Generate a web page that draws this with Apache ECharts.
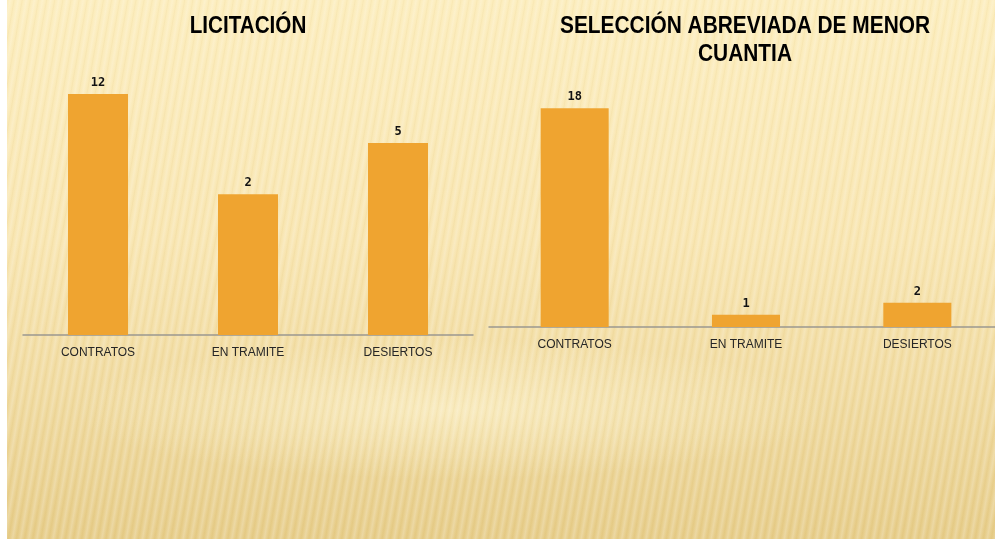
<!DOCTYPE html>
<html>
<head>
<meta charset="utf-8">
<script src="https://cdn.jsdelivr.net/npm/echarts@6/dist/echarts.min.js"></script>
<style>
  html, body { margin: 0; padding: 0; background: #fff; }
  #bg {
    position: absolute; left: 7px; top: 0; width: 988px; height: 539px;
    background:
      repeating-linear-gradient(100deg, rgba(255,255,255,0) 0px, rgba(255,255,255,0.22) 3px, rgba(255,255,255,0) 6px, rgba(190,150,60,0.06) 7px, rgba(255,255,255,0) 8px),
      radial-gradient(ellipse 380px 70px at 45% 76%, rgba(255,246,210,0.6), rgba(255,246,210,0)),
      linear-gradient(180deg, #fcedbd 0%, #f8e5b0 45%, #f0da9f 72%, #e6cc88 100%);
  }
  #chart { position: absolute; left: 0; top: 0; width: 995px; height: 539px; }
</style>
</head>
<body>
<div id="bg"></div>
<div id="chart"></div>
<script>
// categorias y valores
var categorias = ['CONTRATOS', 'EN TRAMITE', 'DESIERTOS']
var licitacion = [12, 2, 5]
var menorCuantia = [18, 1, 2]
var tituloIzq = 'LICITACIÓN'
var tituloDer = 'SELECCIÓN ABREVIADA DE MENOR\nCUANTIA'

var barColor = '#efa430'
var titleFont = "bold 24px 'Liberation Sans', sans-serif"

var myChart = echarts.init(document.getElementById('chart'))

var labelStyle = {
  show: true,
  position: 'top',
  distance: 5,
  color: '#111',
  fontSize: 12,
  fontWeight: 'bold',
  fontFamily: 'DejaVu Sans Mono'
}

var xAxisBase = {
  type: 'category',
  axisTick: { show: false },
  axisLine: { lineStyle: { color: '#9b9890', width: 1.5 } },
  axisLabel: { color: '#262626', fontSize: 12, margin: 12, fontFamily: 'Liberation Sans' },
  splitLine: { show: false }
}

myChart.setOption({
  backgroundColor: 'transparent',
  animation: false,
  graphic: [
    {
      type: 'text',
      x: 248,
      y: 26,
      scaleX: 0.86,
      style: {
        text: tituloIzq,
        align: 'center',
        verticalAlign: 'middle',
        font: titleFont,
        fill: '#000'
      }
    },
    {
      type: 'text',
      x: 745,
      y: 40,
      scaleX: 0.87,
      style: {
        text: tituloDer,
        align: 'center',
        verticalAlign: 'middle',
        lineHeight: 28,
        font: titleFont,
        fill: '#000'
      }
    }
  ],
  grid: [
    { left: 23, width: 450, top: 60, bottom: 204, outerBoundsMode: 'none' },
    { left: 489, width: 514, top: 84, bottom: 212, outerBoundsMode: 'none' }
  ],
  xAxis: [
    Object.assign({ gridIndex: 0, data: categorias }, xAxisBase),
    Object.assign({ gridIndex: 1, data: categorias }, xAxisBase)
  ],
  yAxis: [
    {
      gridIndex: 0,
      type: 'log',
      logBase: 10,
      min: 0.1614,
      max: 22,
      startValue: 0.1614,
      show: false
    },
    {
      gridIndex: 1,
      type: 'value',
      min: 0,
      max: 20,
      show: false
    }
  ],
  series: [
    {
      type: 'bar',
      xAxisIndex: 0,
      yAxisIndex: 0,
      barWidth: 60,
      itemStyle: { color: barColor },
      label: labelStyle,
      data: licitacion
    },
    {
      type: 'bar',
      xAxisIndex: 1,
      yAxisIndex: 1,
      barWidth: 68,
      itemStyle: { color: barColor },
      label: labelStyle,
      data: menorCuantia
    }
  ]
})
</script>
</body>
</html>
